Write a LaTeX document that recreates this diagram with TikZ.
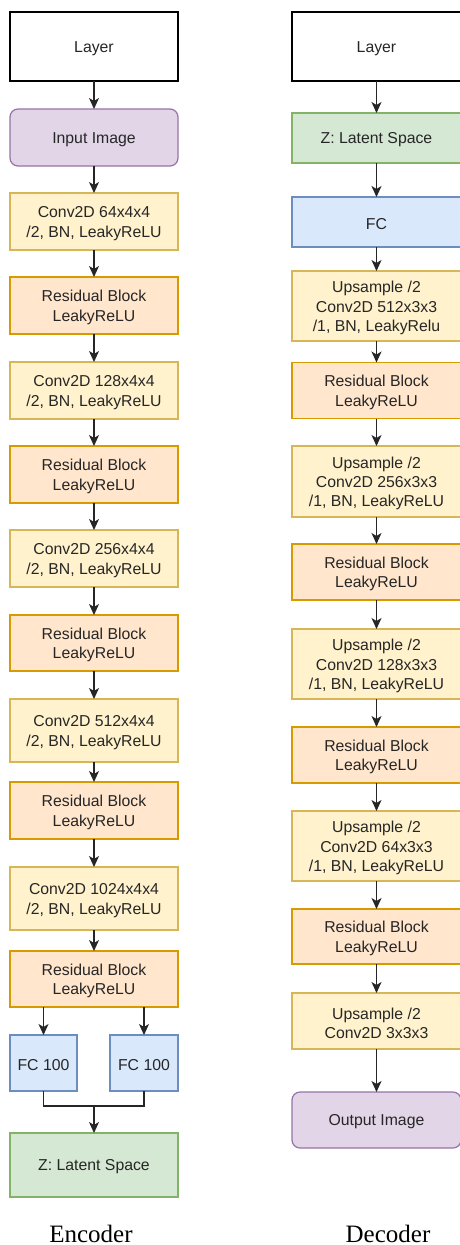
\documentclass[tikz,border=0pt]{standalone}
\usepackage{fontspec}
\setsansfont{Liberation Sans}
\newfontfamily\capfont{Liberation Serif}
\usetikzlibrary{arrows.meta}
\definecolor{txt}{HTML}{262626}
\definecolor{purF}{HTML}{E1D5E7}\definecolor{purD}{HTML}{9673A6}
\definecolor{yelF}{HTML}{FFF2CC}\definecolor{yelD}{HTML}{D6B656}
\definecolor{orgF}{HTML}{FFE6CC}\definecolor{orgD}{HTML}{D79B00}
\definecolor{bluF}{HTML}{DAE8FC}\definecolor{bluD}{HTML}{6C8EBF}
\definecolor{grnF}{HTML}{D5E8D4}\definecolor{grnD}{HTML}{82B366}
\tikzset{
  box/.style={draw, line width=1.2pt, inner sep=0pt, outer sep=0pt},
  boxtext/.style={inner sep=0pt, align=center, text=txt, font=\sffamily\fontsize{15.8}{19.3}\selectfont},
  layerbox/.style={box, draw=black, fill=white},
  imgbox/.style={box, draw=purD, fill=purF, rounded corners=8pt},
  convbox/.style={box, draw=yelD, fill=yelF},
  resbox/.style={box, draw=orgD, fill=orgF},
  fcbox/.style={box, draw=bluD, fill=bluF},
  latbox/.style={box, draw=grnD, fill=grnF},
  arr/.style={draw=black!85, line width=1.4pt, -{Stealth[length=11pt,width=10pt,inset=3pt]}},
  ln/.style={draw=black!85, line width=1.4pt},
  captext/.style={inner sep=0pt, anchor=base, text=black, font=\capfont\fontsize{25}{30}\selectfont}
}
\newcommand{\bx}[6]{\node[#1, minimum width=#4pt, minimum height=#5pt] (#2) at (#3) {};
  \node[boxtext] (#2t) at ([yshift=-2pt]#2.center) {#6};}
\begin{document}
\begin{tikzpicture}[x=1pt,y=-1pt]
\clip (0,0) rectangle (460,1245);
\fill[white] (0,0) rectangle (460,1245);
% Encoder
\bx{layerbox}{eL}{94,46.5}{168}{69}{Layer}
\bx{imgbox}{eIn}{94,137.5}{168}{57}{Input Image}
\bx{convbox}{c1}{94,221.5}{168}{57}{Conv2D 64x4x4\\/2, BN, LeakyReLU}
\bx{resbox}{r1}{94,305.5}{168}{57}{Residual Block\\LeakyReLU}
\bx{convbox}{c2}{94,390.5}{168}{57}{Conv2D 128x4x4\\/2, BN, LeakyReLU}
\bx{resbox}{r2}{94,474.5}{168}{57}{Residual Block\\LeakyReLU}
\bx{convbox}{c3}{94,558.5}{168}{57}{Conv2D 256x4x4\\/2, BN, LeakyReLU}
\bx{resbox}{r3}{94,643}{168}{56}{Residual Block\\LeakyReLU}
\bx{convbox}{c4}{94,730.5}{168}{63}{Conv2D 512x4x4\\/2, BN, LeakyReLU}
\bx{resbox}{r4}{94,810.5}{168}{57}{Residual Block\\LeakyReLU}
\bx{convbox}{c5}{94,898.5}{168}{63}{Conv2D 1024x4x4\\/2, BN, LeakyReLU}
\bx{resbox}{r5}{94,979}{168}{56}{Residual Block\\LeakyReLU}
\bx{fcbox}{fa}{43.5,1063}{67}{56}{FC 100}
\bx{fcbox}{fb}{144,1063}{68}{56}{FC 100}
\bx{latbox}{eZ}{94,1165}{168}{64}{Z: Latent Space}
\coordinate (m) at (94,1106);
\draw[arr] (eL) -- (eIn);
\draw[arr] (eIn) -- (c1);
\draw[arr] (c1) -- (r1);
\draw[arr] (r1) -- (c2);
\draw[arr] (c2) -- (r2);
\draw[arr] (r2) -- (c3);
\draw[arr] (c3) -- (r3);
\draw[arr] (r3) -- (c4);
\draw[arr] (c4) -- (r4);
\draw[arr] (r4) -- (c5);
\draw[arr] (c5) -- (r5);
\draw[arr] (fa.north |- r5.south) -- (fa.north);
\draw[arr] (fb.north |- r5.south) -- (fb.north);
\draw[ln] (fa.south) |- (m) -| (fb.south);
\draw[arr] (m) -- (eZ.north);
\node[captext] (encl) at (91,1242) {Encoder};
% Decoder
\bx{layerbox}{dL}{376.5,46.5}{169}{69}{Layer}
\bx{latbox}{dZ}{376.5,138}{169}{50}{Z: Latent Space}
\bx{fcbox}{dfc}{376.5,222}{169}{50}{FC}
\bx{convbox}{u1}{376.5,306}{169}{70}{Upsample /2\\Conv2D 512x3x3\\/1, BN, LeakyRelu}
\bx{resbox}{q1}{376.5,390.5}{169}{56}{Residual Block\\LeakyReLU}
\bx{convbox}{u2}{376.5,481.5}{169}{71}{Upsample /2\\Conv2D 256x3x3\\/1, BN, LeakyReLU}
\bx{resbox}{q2}{376.5,572}{169}{56}{Residual Block\\LeakyReLU}
\bx{convbox}{u3}{376.5,664}{169}{70}{Upsample /2\\Conv2D 128x3x3\\/1, BN, LeakyReLU}
\bx{resbox}{q3}{376.5,755}{169}{56}{Residual Block\\LeakyReLU}
\bx{convbox}{u4}{376.5,846}{169}{70}{Upsample /2\\Conv2D 64x3x3\\/1, BN, LeakyReLU}
\bx{resbox}{q4}{376.5,936.5}{169}{55}{Residual Block\\LeakyReLU}
\bx{convbox}{u5}{376.5,1021}{169}{56}{Upsample /2\\Conv2D 3x3x3}
\bx{imgbox}{dOut}{376.5,1120}{169}{56}{Output Image}
\draw[arr] (dL) -- (dZ);
\draw[arr] (dZ) -- (dfc);
\draw[arr] (dfc) -- (u1);
\draw[arr] (u1) -- (q1);
\draw[arr] (q1) -- (u2);
\draw[arr] (u2) -- (q2);
\draw[arr] (q2) -- (u3);
\draw[arr] (u3) -- (q3);
\draw[arr] (q3) -- (u4);
\draw[arr] (u4) -- (q4);
\draw[arr] (q4) -- (u5);
\draw[arr] (u5) -- (dOut);
\node[captext] (decl) at (388,1242) {Decoder};
\end{tikzpicture}
\end{document}
